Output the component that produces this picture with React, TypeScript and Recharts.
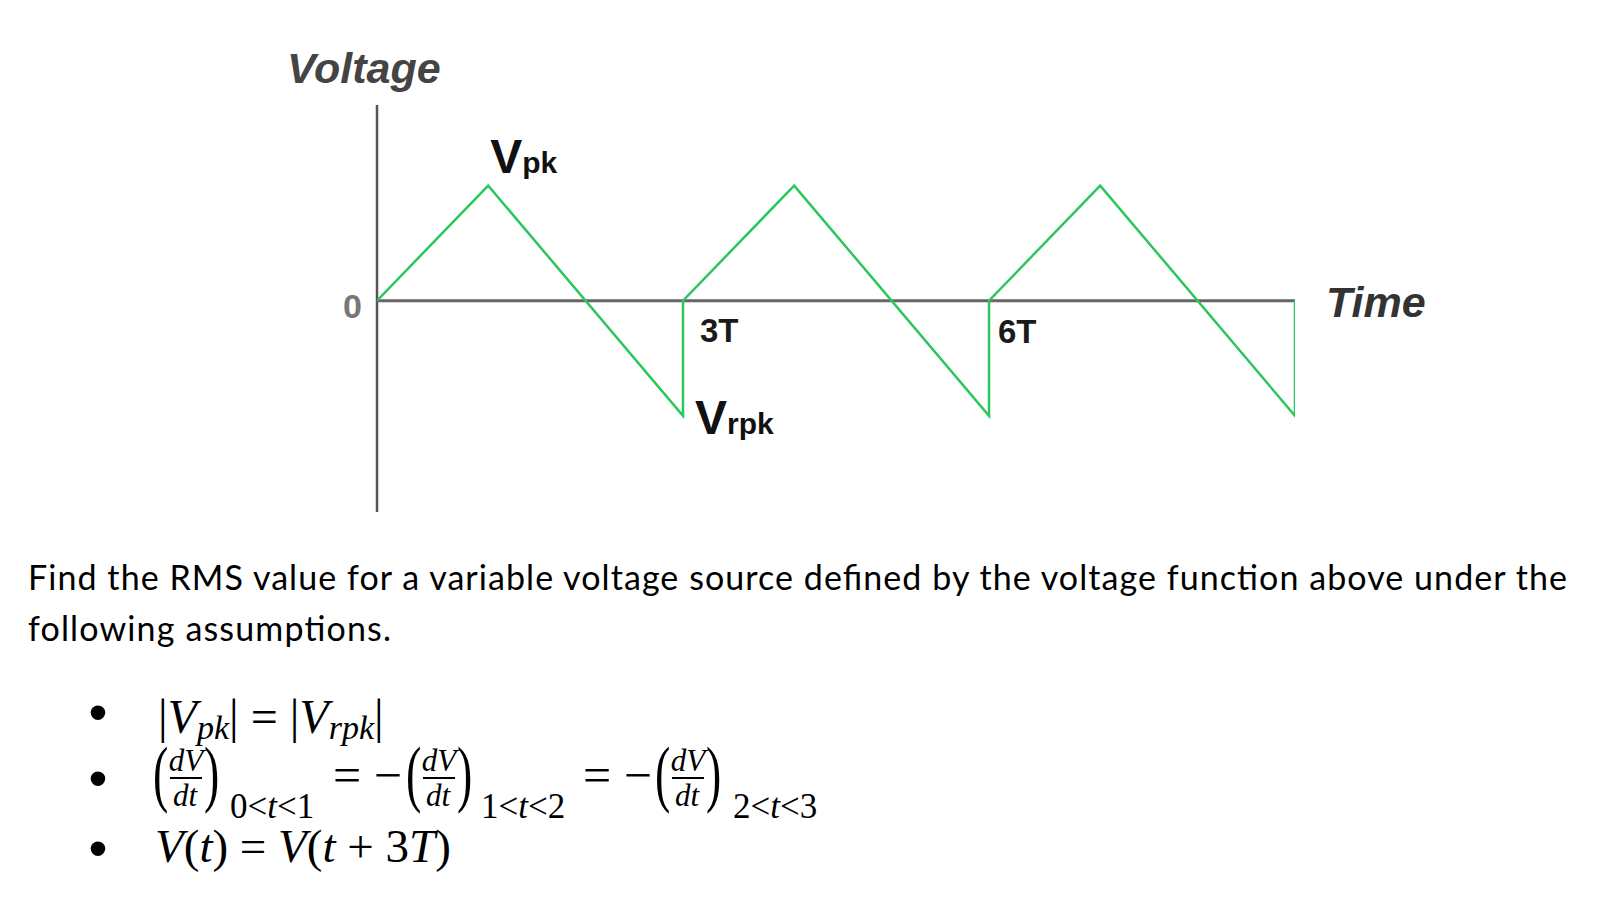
import React from "react";
import { LineChart, Line, XAxis, YAxis, ReferenceLine, ReferenceDot } from "recharts";

// time in units of T, voltage in units of Vpk
const times = [0, 1.09, 3, 3, 4.09, 6, 6, 7.09, 9, 9];
const volts = [0, 1, -1, 0, 1, -1, 0, 1, -1, 0];

const periodTicks = [3, 6];
const periodLabels = ["3T", "6T"];

const data = times.map((t, i) => ({ t, v: volts[i] }));

const GREEN = "#2bc75a";
const SANS = "'Liberation Sans', Arial, sans-serif";
const SERIF = "'Liberation Serif', 'Times New Roman', serif";

type Part = { text: string; size: number; dy?: number };

const textAt =
  (parts: Part[], dx: number, dy: number, opts: any = {}) =>
  (props: any) => {
    const vb = props.viewBox || { x: 0, y: 0, width: 0, height: 0 };
    const cx = vb.x + vb.width / 2;
    const cy = vb.y + vb.height / 2;
    return (
      <text
        x={cx + dx}
        y={cy + dy}
        textAnchor={opts.anchor || "start"}
        fontFamily={SANS}
        fontWeight="bold"
        fontStyle={opts.italic ? "italic" : "normal"}
        fill={opts.color || "#111"}
      >
        {parts.map((p, i) => (
          <tspan key={i} fontSize={p.size} dy={p.dy || 0}>
            {p.text}
          </tspan>
        ))}
      </text>
    );
  };

const tickOffsets = [
  { dx: 17, dy: 41 },
  { dx: 9, dy: 42 },
];

// (dV/dt) with a tall thin pair of parens
function Fraction({ x }: { x: number }) {
  return (
    <g>
      <text transform={`translate(${x - 2}, 798) scale(0.62, 1)`} fontFamily={SERIF} fontSize={74}>
        (
      </text>
      <text x={x + 31} y={771} fontFamily={SERIF} fontSize={31} fontStyle="italic" textAnchor="middle">
        dV
      </text>
      <line x1={x + 15} x2={x + 47} y1={778} y2={778} stroke="#000" strokeWidth={2} />
      <text x={x + 30} y={806} fontFamily={SERIF} fontSize={31} fontStyle="italic" textAnchor="middle">
        dt
      </text>
      <text transform={`translate(${x + 49}, 798) scale(0.62, 1)`} fontFamily={SERIF} fontSize={74}>
        )
      </text>
    </g>
  );
}

function Sub({ x, a, b }: { x: number; a: string; b: string }) {
  return (
    <text x={x} y={818} fontFamily={SERIF} fontSize={35}>
      {a}&lt;<tspan fontStyle="italic">t</tspan>&lt;{b}
    </text>
  );
}

export default function App() {
  return (
    <div style={{ position: "absolute", left: 0, top: 0, width: 1600, height: 916, background: "#fff" }}>
      <LineChart
        width={1600}
        height={916}
        data={data}
        margin={{ top: 105, right: 305, bottom: 404, left: 377 }}
      >
        <XAxis type="number" dataKey="t" domain={[0, 9]} hide allowDataOverflow />
        <YAxis type="number" domain={[-1.835, 1.7]} hide allowDataOverflow />
        <ReferenceLine x={0} stroke="#555" strokeWidth={2.5} />
        <ReferenceLine y={0} stroke="#666" strokeWidth={3} />
        <Line
          type="linear"
          dataKey="v"
          stroke={GREEN}
          strokeWidth={2.5}
          dot={false}
          isAnimationActive={false}
        />
        <ReferenceDot
          x={1.09}
          y={1}
          r={1}
          fill="none"
          stroke="none"
          label={{ content: textAt([{ text: "V", size: 48 }, { text: "pk", size: 30 }], 2, -13) }}
        />
        <ReferenceDot
          x={3}
          y={-1}
          r={1}
          fill="none"
          stroke="none"
          label={{ content: textAt([{ text: "V", size: 48 }, { text: "rpk", size: 30 }], 12, 18) }}
        />
        <ReferenceDot
          x={0}
          y={0}
          r={1}
          fill="none"
          stroke="none"
          label={{ content: textAt([{ text: "0", size: 34 }], -15, 17, { anchor: "end", color: "#777" }) }}
        />
        {periodTicks.map((p, i) => (
          <ReferenceDot
            key={p}
            x={p}
            y={0}
            r={1}
            fill="none"
            stroke="none"
            label={{
              content: textAt([{ text: periodLabels[i], size: 33 }], tickOffsets[i].dx, tickOffsets[i].dy, {
                color: "#1a1a1a",
              }),
            }}
          />
        ))}
        <ReferenceDot
          x={0}
          y={1.7}
          r={1}
          fill="none"
          stroke="none"
          label={{ content: textAt([{ text: "Voltage", size: 43 }], -90, -22, { italic: true, color: "#444" }) }}
        />
        <ReferenceDot
          x={9}
          y={0}
          r={1}
          fill="none"
          stroke="none"
          label={{ content: textAt([{ text: "Time", size: 43 }], 31, 16, { italic: true, color: "#333" }) }}
        />
      </LineChart>

      <svg width={1600} height={916} style={{ position: "absolute", left: 0, top: 0 }}>
        <text x={28} y={590} fontFamily="Lato, sans-serif" fontSize={34} textLength={1539} lengthAdjust="spacing">
          Find the RMS value for a variable voltage source defined by the voltage function above under the
        </text>
        <text x={28} y={641} fontFamily="Lato, sans-serif" fontSize={34} textLength={363} lengthAdjust="spacing">
          following assumptions.
        </text>

        {[731, 797, 867].map((y) => (
          <text key={y} x={98} y={y} fontFamily={SANS} fontSize={54} textAnchor="middle">
            •
          </text>
        ))}

        <text x={158} y={733} fontFamily={SERIF} fontSize={48}>
          |<tspan fontStyle="italic">V</tspan>
          <tspan fontStyle="italic" fontSize={34} dy={6}>pk</tspan>
          <tspan dy={-6}>| = |</tspan>
          <tspan fontStyle="italic">V</tspan>
          <tspan fontStyle="italic" fontSize={34} dy={6}>rpk</tspan>
          <tspan dy={-6}>|</tspan>
        </text>

        <Fraction x={155} />
        <Sub x={230} a="0" b="1" />
        <text x={333} y={792} fontFamily={SERIF} fontSize={50}>= −</text>
        <Fraction x={408} />
        <Sub x={481} a="1" b="2" />
        <text x={583} y={792} fontFamily={SERIF} fontSize={50}>= −</text>
        <Fraction x={657} />
        <Sub x={733} a="2" b="3" />

        <text x={155} y={862} fontFamily={SERIF} fontSize={47}>
          <tspan fontStyle="italic">V</tspan>(<tspan fontStyle="italic">t</tspan>) = <tspan fontStyle="italic">V</tspan>(
          <tspan fontStyle="italic">t</tspan> + 3<tspan fontStyle="italic">T</tspan>)
        </text>
      </svg>
    </div>
  );
}
